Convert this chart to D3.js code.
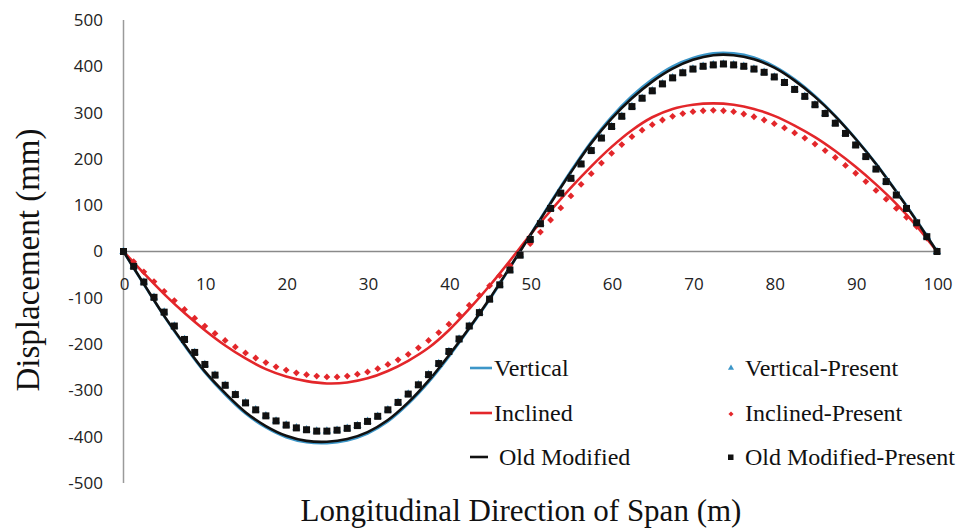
<!DOCTYPE html>
<html><head><meta charset="utf-8">
<script src="https://cdn.jsdelivr.net/npm/d3@7"></script>
<style>body{margin:0;background:#fff}svg{display:block}</style>
</head><body>
<svg id="chart" width="957" height="530"></svg>
<script>
// ---- data ----
const xLine = d3.range(0, 100.001, 2.5);          // line sample positions (m)
const xMark = d3.range(0, 100.001, 1.25);         // marker positions (m)
const verticalLine = [0,-71,-140,-203,-261,-309,-350,-380,-401,-412,-414,-408,-393,-367,-329,-282,-227,-167,-104,-35,36,106,174,237,291,336,372,400,418,428,428,419,400,372,336,293,244,190,130,67,0];
const inclinedLine = [0,-47,-92,-133,-170,-203,-231,-254,-270,-280,-285,-283,-274,-258,-236,-208,-170,-124,-74,-20,36,88,138,184,226,262,290,308,317,320,317,308,293,272,247,217,183,145,103,55,0];
const oldModLine = [0,-70,-139,-201,-259,-306,-347,-377,-398,-409,-411,-405,-390,-364,-326,-279,-224,-165,-102,-34,35,104,171,234,287,331,367,395,414,424,424,415,397,369,334,292,243,189,129,66,0];
const oldModPresent = [0,-32,-66,-99,-131,-161,-190,-218,-244,-267,-289,-309,-327,-342,-355,-366,-375,-381,-385,-388,-388,-386,-382,-376,-367,-356,-342,-326,-308,-288,-266,-242,-216,-189,-161,-132,-103,-72,-40,-8,26,60,93,126,158,189,218,245,270,292,313,331,347,362,375,386,394,400,403,405,403,400,394,387,377,365,350,335,317,298,277,255,230,205,178,151,122,93,62,32,0];
const verticalPresent = [0,-32,-66,-99,-131,-161,-190,-218,-244,-267,-289,-309,-327,-342,-355,-366,-375,-381,-385,-388,-388,-386,-382,-376,-367,-356,-342,-326,-308,-288,-266,-242,-216,-189,-161,-132,-103,-72,-40,-8,26,60,93,126,158,189,218,245,270,292,313,331,347,362,375,386,394,400,403,405,403,400,394,387,377,365,350,335,317,298,277,255,230,205,178,151,122,93,62,32,0];
const inclinedPresent = [0,-22,-44,-65,-86,-106,-125,-144,-161,-177,-192,-206,-219,-230,-240,-249,-256,-262,-266,-269,-271,-271,-269,-265,-260,-253,-244,-234,-222,-208,-192,-175,-157,-137,-116,-95,-74,-52,-30,-7,17,42,68,94,120,145,168,191,212,231,248,262,274,284,292,298,302,304,305,304,302,297,291,284,276,267,256,245,232,218,203,186,169,151,132,113,93,74,54,29,0];
const xTicks = [0,10,20,30,40,50,60,70,80,90,100];
const yTicks = [500,400,300,200,100,0,-100,-200,-300,-400,-500];
const xTitle = "Longitudinal Direction of Span (m)";
const yTitle = "Displacement (mm)";

// ---- drawing ----
const svg = d3.select("#chart");
const x = d3.scaleLinear().domain([0,100]).range([123.5,937]);
const y = d3.scaleLinear().domain([-500,500]).range([483,20]);
const BLUE="#3c96c8", RED="#e3262a", BLACK="#111";

svg.append("line").attr("x1",x(0)).attr("x2",x(0)).attr("y1",y(500)).attr("y2",y(-500))
  .attr("stroke","#9a9a9a").attr("stroke-width",1.5);
svg.append("line").attr("x1",x(0)).attr("x2",x(100)).attr("y1",y(0)).attr("y2",y(0))
  .attr("stroke","#8a8a8a").attr("stroke-width",1.5);

const tickFont = "'Open Sans', 'Liberation Sans', sans-serif";
svg.append("g").selectAll("text").data(yTicks).join("text")
  .attr("x",103).attr("y",d=>y(d)).attr("dy","0.35em").attr("text-anchor","end")
  .attr("font-family",tickFont).attr("font-size",17).attr("fill","#222").text(d=>d);
svg.append("g").selectAll("text").data(xTicks).join("text")
  .attr("x",d=>x(d)+1).attr("y",y(0)+33).attr("dy","0.35em").attr("text-anchor","middle")
  .attr("font-family",tickFont).attr("font-size",17).attr("fill","#222").text(d=>d);

const serif = "'Liberation Serif', 'Times New Roman', serif";
svg.append("text").attr("x",521).attr("y",521).attr("text-anchor","middle")
  .attr("font-family",serif).attr("font-size",31).attr("fill","#111").text(xTitle);
svg.append("text").attr("transform","translate(39,260) rotate(-90)").attr("text-anchor","middle")
  .attr("font-family",serif).attr("font-size",33).attr("fill","#111").text(yTitle);

const line = d3.line().x(d=>x(d[0])).y(d=>y(d[1])).curve(d3.curveCatmullRom);
function drawLine(vals,color){
  svg.append("path").datum(xLine.map((xv,i)=>[xv,vals[i]]))
    .attr("d",line).attr("fill","none").attr("stroke",color).attr("stroke-width",2.6);
}
drawLine(verticalLine,BLUE);
drawLine(inclinedLine,RED);
drawLine(oldModLine,BLACK);

const triangle = d3.symbol().type(d3.symbolTriangle).size(30);
svg.append("g").selectAll("path").data(xMark.map((xv,i)=>[xv,verticalPresent[i]])).join("path")
  .attr("d",triangle).attr("transform",d=>`translate(${x(d[0])},${y(d[1])})`).attr("fill",BLUE);
svg.append("g").selectAll("rect").data(xMark.map((xv,i)=>[xv,inclinedPresent[i]])).join("rect")
  .attr("x",-2.4).attr("y",-2.4).attr("width",4.8).attr("height",4.8)
  .attr("transform",d=>`translate(${x(d[0])},${y(d[1])}) rotate(45)`).attr("fill",RED);
svg.append("g").selectAll("rect").data(xMark.map((xv,i)=>[xv,oldModPresent[i]])).join("rect")
  .attr("x",d=>x(d[0])-3.5).attr("y",d=>y(d[1])-3.5).attr("width",7).attr("height",7).attr("fill",BLACK);

// legend
const legLines = [
  {name:"Vertical", color:BLUE, y:368, x1:470, x2:492, tx:494},
  {name:"Inclined", color:RED, y:413, x1:470, x2:492, tx:494},
  {name:"Old Modified", color:BLACK, y:457, x1:470, x2:488, tx:499}
];
const lg = svg.append("g");
legLines.forEach(d=>{
  lg.append("line").attr("x1",d.x1).attr("x2",d.x2).attr("y1",d.y).attr("y2",d.y)
    .attr("stroke",d.color).attr("stroke-width",2.6);
  lg.append("text").attr("x",d.tx).attr("y",d.y).attr("dy","0.33em")
    .attr("font-family",serif).attr("font-size",24).attr("fill","#111").text(d.name);
});
const legMarks = [
  {name:"Vertical-Present", y:368, sym:"tri"},
  {name:"Inclined-Present", y:413, sym:"dia"},
  {name:"Old Modified-Present", y:457, sym:"sq"}
];
legMarks.forEach(d=>{
  if(d.sym==="tri") lg.append("path").attr("d",d3.symbol().type(d3.symbolTriangle).size(16)).attr("transform",`translate(731,${d.y})`).attr("fill",BLUE);
  if(d.sym==="dia") lg.append("rect").attr("x",-1.8).attr("y",-1.8).attr("width",3.6).attr("height",3.6).attr("transform",`translate(731,${d.y+1}) rotate(45)`).attr("fill",RED);
  if(d.sym==="sq") lg.append("rect").attr("x",728).attr("y",d.y-2.5).attr("width",5.5).attr("height",5.5).attr("fill",BLACK);
  lg.append("text").attr("x",745).attr("y",d.y).attr("dy","0.33em")
    .attr("font-family",serif).attr("font-size",24).attr("fill","#111").text(d.name);
});
</script>
</body></html>
